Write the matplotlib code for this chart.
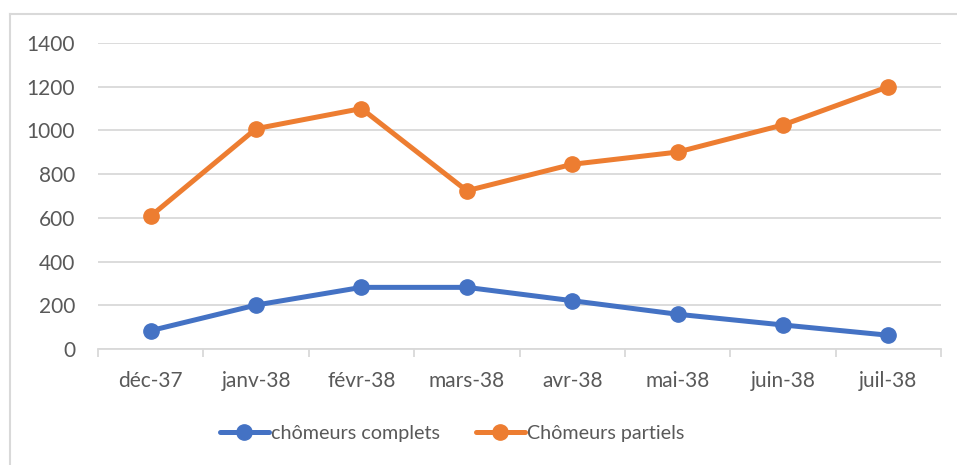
import matplotlib.pyplot as plt
from matplotlib.lines import Line2D

plt.rcParams['font.family'] = ['Lato', 'DejaVu Sans']

# Monthly counts
months = ['déc-37', 'janv-38', 'févr-38', 'mars-38', 'avr-38', 'mai-38', 'juin-38', 'juil-38']
complets = [84, 201, 282, 282, 221, 159, 110, 63]
partiels = [608, 1008, 1100, 724, 845, 901, 1025, 1200]

blue = '#4472C4'
orange = '#ED7D31'
grid_col = '#D9D9D9'
text_col = '#595959'

fig = plt.figure(figsize=(9.57, 4.65), dpi=100)
ax = fig.add_axes([98 / 957, 1 - 349 / 465, (941 - 98) / 957, (349 - 43) / 465])

x = list(range(len(months)))
ax.plot(x, complets, color=blue, lw=3.6, marker='o', ms=11, label='chômeurs complets',
        solid_capstyle='round', zorder=3)
ax.plot(x, partiels, color=orange, lw=3.6, marker='o', ms=11, label='Chômeurs partiels',
        solid_capstyle='round', zorder=3)

ax.set_xlim(-0.5, len(months) - 0.5)
ax.set_ylim(0, 1400)
ax.set_yticks(range(0, 1401, 200))
ax.grid(axis='y', color=grid_col, lw=1.3)
ax.set_axisbelow(True)

for s in ['top', 'right', 'left']:
    ax.spines[s].set_visible(False)
ax.spines['bottom'].set_color(grid_col)
ax.spines['bottom'].set_linewidth(1.3)

# category labels centred, tick marks on category boundaries
ax.set_xticks(x)
ax.set_xticklabels(months)
ax.tick_params(axis='x', length=0, pad=16, labelsize=15, labelcolor=text_col)
ax.set_xticks([i - 0.5 for i in range(len(months) + 1)], minor=True)
ax.tick_params(axis='x', which='minor', length=6, width=1.3, color=grid_col)
ax.tick_params(axis='y', length=0, pad=16.5, labelsize=15, labelcolor=text_col)

# chart frame
fig.add_artist(Line2D([10 / 957, 10 / 957], [0, 1 - 14 / 465], color=grid_col, lw=1.5))
fig.add_artist(Line2D([10 / 957, 1], [1 - 14 / 465, 1 - 14 / 465], color=grid_col, lw=1.5))

leg = fig.legend(loc='center', bbox_to_anchor=(452 / 957, 1 - 433 / 465), ncol=2,
                 frameon=False, fontsize=14.2, handlelength=2.5, handletextpad=0.1,
                 columnspacing=1.8, labelcolor=text_col)

fig.savefig('out.png', dpi=100)
